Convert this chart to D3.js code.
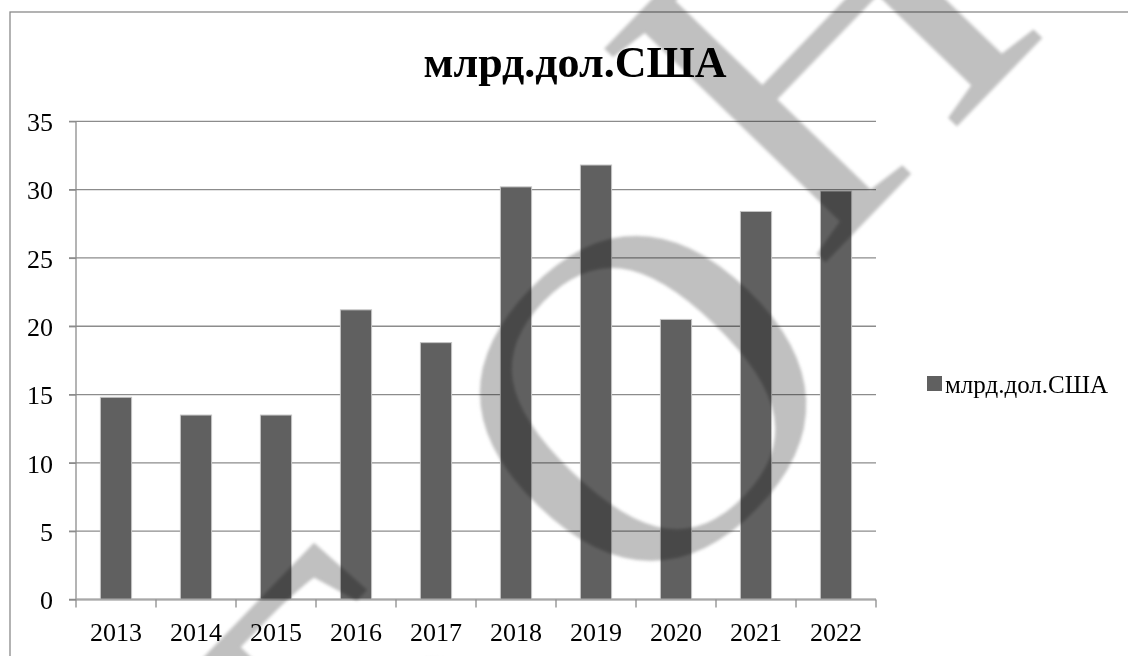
<!DOCTYPE html>
<html>
<head>
<meta charset="utf-8">
<script src="https://cdn.jsdelivr.net/npm/d3@7"></script>
<style>
  html, body { margin: 0; padding: 0; background: #fff; }
  svg { display: block; }
</style>
</head>
<body>
<svg id="chart" width="1128" height="656"></svg>
<script>
// data
var years = ["2013", "2014", "2015", "2016", "2017", "2018", "2019", "2020", "2021", "2022"];
var values = [14.8, 13.5, 13.5, 21.2, 18.8, 30.2, 31.8, 20.5, 28.4, 29.9];
var yTicks = [0, 5, 10, 15, 20, 25, 30, 35];
var seriesName = "млрд.дол.США";
var titleText = "млрд.дол.США";

var font = "'Liberation Serif', 'Times New Roman', serif";
var svg = d3.select("#chart");
var W = +svg.attr("width"), H = +svg.attr("height");

svg.append("rect").attr("width", W).attr("height", H).attr("fill", "#fff");

// chart frame (bottom and right run off the page)
svg.append("rect")
  .attr("x", 10).attr("y", 12)
  .attr("width", 1200).attr("height", 800)
  .attr("fill", "none").attr("stroke", "#8a8a8a").attr("stroke-width", 1.3);

var plot = {left: 76, right: 876, top: 121.3, bottom: 599.5};

var scX = d3.scaleBand().domain(years)
  .range([plot.left, plot.right])
  .paddingInner(0.61).paddingOuter(0.305);
var scY = d3.scaleLinear().domain([0, 35]).range([plot.bottom, plot.top]);

// gridlines
svg.append("g").selectAll("line").data(yTicks).enter()
  .append("line")
  .attr("x1", plot.left - 7).attr("x2", plot.right)
  .attr("y1", d => scY(d)).attr("y2", d => scY(d))
  .attr("stroke", "#8c8c8c").attr("stroke-width", 1.3);

// bars
svg.append("g").selectAll("rect").data(values).enter()
  .append("rect")
  .attr("x", (d, i) => scX(years[i]))
  .attr("width", scX.bandwidth())
  .attr("y", d => scY(d))
  .attr("height", d => scY(0) - scY(d))
  .attr("fill", "#606060")
  .attr("stroke", "#c4c4c4").attr("stroke-width", 1);

// y axis
var yAx = svg.append("g")
  .attr("transform", "translate(" + plot.left + ",0)")
  .call(d3.axisLeft(scY).tickValues(yTicks).tickSize(7).tickPadding(16));
yAx.select(".domain").attr("stroke", "#8c8c8c").attr("stroke-width", 1.3)
  .attr("d", "M0," + plot.top + "V" + plot.bottom);
yAx.selectAll(".tick line").attr("stroke", "#8c8c8c").attr("stroke-width", 1.3);
yAx.selectAll(".tick text").attr("font-family", font).attr("font-size", 26)
  .attr("fill", "#000").attr("dy", "0.36em");

// x axis
var xTickPos = years.map((y, i) => plot.left + i * scX.step()).concat([plot.right]);
var xAx = svg.append("g");
xAx.append("line")
  .attr("x1", plot.left).attr("x2", plot.right)
  .attr("y1", plot.bottom).attr("y2", plot.bottom)
  .attr("stroke", "#a8a8a8").attr("stroke-width", 2);
xAx.selectAll(".tk").data(xTickPos).enter()
  .append("line").attr("class", "tk")
  .attr("x1", d => d).attr("x2", d => d)
  .attr("y1", plot.bottom).attr("y2", plot.bottom + 8)
  .attr("stroke", "#8c8c8c").attr("stroke-width", 1.3);
xAx.selectAll("text").data(years).enter()
  .append("text")
  .attr("x", d => scX(d) + scX.bandwidth() / 2)
  .attr("y", 641)
  .attr("text-anchor", "middle")
  .attr("font-family", font).attr("font-size", 26)
  .text(d => d);

// title
svg.append("text")
  .attr("x", 575).attr("y", 77)
  .attr("text-anchor", "middle")
  .attr("font-family", font).attr("font-size", 44).attr("font-weight", "bold")
  .text(titleText);

// legend
var lg = svg.append("g").attr("transform", "translate(927,376)");
lg.append("rect").attr("width", 15).attr("height", 15).attr("fill", "#606060");
lg.append("text").attr("x", 18).attr("y", 17)
  .attr("font-family", font).attr("font-size", 25)
  .text(seriesName);

// watermark letters, laid over the chart
var wmLetters = [
  {ch: "Б", x: 360, y: 710},
  {ch: "О", x: 640, y: 395},
  {ch: "Н", x: 820, y: 40}
];
var defs = svg.append("defs");
defs.append("filter").attr("id", "soft")
  .append("feGaussianBlur").attr("stdDeviation", 1.5);
svg.append("g").selectAll("text").data(wmLetters).enter()
  .append("text")
  .attr("transform", d => "translate(" + d.x + "," + d.y + ") rotate(-46)")
  .attr("text-anchor", "middle").attr("dominant-baseline", "central")
  .attr("font-family", font).attr("font-size", 470)
  .attr("fill", "#c0c0c0")
  .attr("filter", "url(#soft)")
  .style("mix-blend-mode", "multiply")
  .text(d => d.ch);
</script>
</body>
</html>
